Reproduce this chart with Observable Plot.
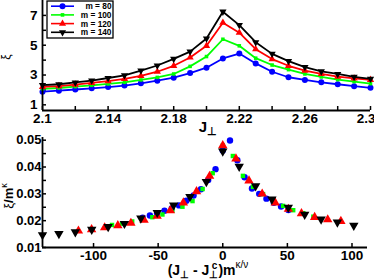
<!DOCTYPE html>
<html><head><meta charset="utf-8">
<script src="https://cdn.jsdelivr.net/npm/d3@7"></script>
<script src="https://cdn.jsdelivr.net/npm/@observablehq/plot@0.6"></script>
<style>
body{margin:0;background:#fff;}
#wrap{position:relative;width:374px;height:279px;overflow:hidden;font-family:"Liberation Sans",Arial,sans-serif;}
#wrap svg{position:absolute;left:0;background:transparent;}
</style></head><body><div id="wrap"></div>
<script>
// ---- data ----
const J = [2.10,2.11,2.12,2.13,2.14,2.15,2.16,2.17,2.18,2.19,2.20,2.21,2.22,2.23,2.24,2.25,2.26,2.27,2.28,2.29,2.30];
const mValues = [80,100,120,140];
const colors = ["#0000ff","#00ff00","#ff0000","#000000"];
const xi80  = [1.88,1.95,2.03,2.11,2.19,2.29,2.44,2.62,2.82,3.13,3.49,4.11,4.44,3.78,3.22,2.85,2.67,2.51,2.38,2.25,2.14];
const xi100 = [2.07,2.13,2.22,2.31,2.40,2.51,2.67,2.84,3.07,3.58,4.24,5.40,4.96,4.13,3.67,3.36,3.07,2.87,2.69,2.56,2.42];
const xi120 = [2.20,2.26,2.36,2.47,2.59,2.74,2.94,3.22,3.62,4.18,4.96,6.51,5.84,4.73,4.07,3.62,3.29,3.07,2.89,2.77,2.68];
const xi140 = [2.32,2.38,2.50,2.63,2.80,2.98,3.30,3.64,4.08,4.57,5.45,7.25,6.35,5.20,4.42,3.93,3.53,3.24,3.07,2.88,2.74];

// scaling collapse (bottom panel)
const sx80  = [-62.0,-56.4,-50.8,-45.1,-39.5,-33.8,-28.2,-22.6,-16.9,-11.3,-5.6,0,5.6,11.3,16.9,22.6,28.2,33.8,39.5,45.1,50.8];
const sy80  = [0.0211,0.0219,0.0228,0.0237,0.0246,0.0257,0.0274,0.0294,0.0317,0.0352,0.0392,0.0462,0.0499,0.0425,0.0362,0.0320,0.0300,0.0282,0.0267,0.0253,0.0240];
const sx100 = [-85.7,-77.9,-70.1,-62.3,-54.5,-46.7,-39.0,-31.2,-23.4,-15.6,-7.8,0,7.8,15.6,23.4,31.2,39.0,46.7,54.5,62.3,70.1];
const sy100 = [0.0184,0.0189,0.0197,0.0205,0.0213,0.0223,0.0237,0.0252,0.0273,0.0318,0.0377,0.0480,0.0441,0.0367,0.0326,0.0299,0.0273,0.0255,0.0239,0.0228,0.0215];
const sx120 = [-111.7,-101.5,-91.4,-81.2,-71.1,-60.9,-50.8,-40.6,-30.5,-20.3,-10.2,0,10.2,20.3,30.5,40.6,50.8,60.9,71.1,81.2,91.4];
const sy120 = [0.0162,0.0167,0.0174,0.0182,0.0191,0.0202,0.0217,0.0238,0.0267,0.0309,0.0366,0.0480,0.0431,0.0349,0.0300,0.0267,0.0243,0.0227,0.0213,0.0204,0.0198];
const sx140 = [-139.5,-126.8,-114.1,-101.4,-88.7,-76.1,-63.4,-50.7,-38.0,-25.4,-12.7,0,12.7,25.4,38.0,50.7,63.4,76.1,88.7,101.4];
const sy140 = [0.0147,0.0151,0.0158,0.0167,0.0177,0.0189,0.0209,0.0230,0.0258,0.0289,0.0345,0.0459,0.0402,0.0329,0.0280,0.0249,0.0223,0.0205,0.0194,0.0182];

const topXTicks = [2.1,2.14,2.18,2.22,2.26];
const topXLast = [2.3];
const topXMinor = [2.1,2.12,2.14,2.16,2.18,2.2,2.22,2.24,2.26,2.28,2.3];
const topYTicks = [1,3,5,7];
const topYMinor = [1,2,3,4,5,6,7];
const botXTicks = [-100,-50,0,50,100];
const botYTicks = [0.01,0.02,0.03,0.04,0.05];
const botYMinor = [0.01,0.015,0.02,0.025,0.03,0.035,0.04,0.045,0.05];

const xiSeries = [xi80, xi100, xi120, xi140];
const sxSeries = [sx80, sx100, sx120, sx140];
const sySeries = [sy80, sy100, sy120, sy140];

// ---- helpers ----
const sqrt3 = Math.sqrt(3);
const triangleDown = {
  draw(context, size) {
    const y = -Math.sqrt(size / (sqrt3 * 3));
    context.moveTo(0, -y * 2);
    context.lineTo(-sqrt3 * y, y);
    context.lineTo(sqrt3 * y, y);
    context.closePath();
  }
};
const symbols = ["circle", "square", "triangle", triangleDown];
const d3symbols = [d3.symbolCircle, d3.symbolSquare, d3.symbolTriangle, triangleDown];

const W = 374;
const topMl = 42, topMr = 4, topMt = 0, topPH = 110, topH = 140;
const botMl = 42, botMr = 7, botMt = 7, botPH = 110, botH = 149;

const topRows = mValues.map((m, k) => J.map((j, i) => ({J: j, xi: xiSeries[k][i], m})));
const botRows = mValues.map((m, k) => sxSeries[k].map((x, i) => ({x, y: sySeries[k][i], m})));

const fontStyle = {fontFamily: '"Liberation Sans", Arial, sans-serif', fontWeight: "bold", fontSize: "13px", background: "transparent", overflow: "visible"};

// ---- top panel ----
const topPlot = Plot.plot({
  width: W, height: topH,
  marginLeft: topMl, marginRight: topMr, marginTop: topMt, marginBottom: topH - topMt - topPH,
  style: fontStyle,
  x: {domain: [2.1, 2.3]},
  y: {domain: [0.62, 8.0]},
  marks: [
    Plot.axisX(topXTicks, {tickSize: 0, tickPadding: 3, tickFormat: d => String(d), fontSize: 13.5, label: null}),
    Plot.axisX(topXLast, {tickSize: 0, tickPadding: 3, tickFormat: d => String(d), fontSize: 13.5, textAnchor: "end", dx: 5, label: null}),
    Plot.axisY(topYTicks, {tickSize: 0, tickPadding: 5, tickFormat: d => String(d), fontSize: 13.5, label: null}),
    Plot.tickX(topXMinor, {x: d => d, insetTop: topPH - 4, strokeWidth: 1.5}),
    Plot.tickY(topYMinor, {y: d => d, insetRight: W - topMl - topMr - 4, strokeWidth: 1.5}),
    ...topRows.map((rows, k) => Plot.line(rows, {x: "J", y: "xi", stroke: colors[k], strokeWidth: 1.8})),
    ...topRows.map((rows, k) => Plot.dot(rows, {x: "J", y: "xi", fill: colors[k], stroke: "none", symbol: () => symbols[k], r: k === 0 ? 3 : k === 1 ? 2.0 : 2.7})),
    Plot.ruleX([2.1], {strokeWidth: 1.8}),
    Plot.ruleY([0.62], {strokeWidth: 1.8})
  ]
});
topPlot.style.top = "0px";
document.getElementById("wrap").appendChild(topPlot);

// ---- bottom panel ----
const botPlot = Plot.plot({
  width: W, height: botH,
  marginLeft: botMl, marginRight: botMr, marginTop: botMt, marginBottom: botH - botMt - botPH,
  style: fontStyle,
  x: {domain: [-139.5, 112]},
  y: {domain: [0.01, 0.051]},
  marks: [
    Plot.axisX(botXTicks, {tickSize: 0, tickPadding: 3, tickFormat: d => String(d), fontSize: 13.5, label: null}),
    Plot.axisY(botYTicks, {tickSize: 0, tickPadding: 1, tickFormat: d => d.toFixed(2), fontSize: 13, label: null}),
    Plot.tickX(botXTicks, {x: d => d, insetTop: botPH - 4, strokeWidth: 1.5}),
    Plot.tickY(botYMinor, {y: d => d, insetRight: W - botMl - botMr - 4, strokeWidth: 1.5}),
    ...botRows.map((rows, k) => Plot.dot(rows, {x: "x", y: "y", fill: colors[k], stroke: "none", symbol: () => symbols[k], r: k === 0 ? 3.2 : k === 1 ? 2.5 : 3.5})),
    Plot.ruleX([-139.5], {strokeWidth: 1.8}),
    Plot.ruleY([0.01], {strokeWidth: 1.8})
  ]
});
botPlot.style.top = "130px";
document.getElementById("wrap").appendChild(botPlot);

// ---- rich text labels ----
function richText(svg, x, y, parts, rotate) {
  const t = d3.select(svg).append("text")
    .attr("transform", `translate(${x},${y})` + (rotate ? " rotate(-90)" : ""))
    .attr("text-anchor", "middle").attr("fill", "#000")
    .style("font-family", '"Liberation Sans", Arial, sans-serif');
  let shift = 0;
  parts.forEach(p => {
    const s = t.append("tspan").text(p.t)
      .style("font-size", p.size + "px").style("font-weight", p.bold ? "bold" : "normal");
    const target = p.shift || 0;
    s.attr("dy", target - shift);
    if (p.dx) s.attr("dx", p.dx);
    shift = target;
  });
  return t;
}
const ts = topPlot;
const bs = botPlot;

richText(ts, 208, 132, [{t: "J", size: 15, bold: true}, {t: "⊥", size: 11, bold: true, shift: 3}]);
richText(ts, 10, 57, [{t: "ξ", size: 12}], true);

richText(bs, 208, 145, [
  {t: "(J", size: 14, bold: true}, {t: "⊥", size: 10, bold: true, shift: 3},
  {t: " - J", size: 14, bold: true}, {t: "⊥", size: 10, bold: true, shift: 3},
  {t: "c", size: 10, bold: true, shift: -6, dx: -6.5}, {t: ")m", size: 14, bold: true, shift: 0, dx: 1},
  {t: "κ/ν", size: 10, shift: -7}
]);
richText(bs, 13, 66, [{t: "ξ", size: 13}, {t: "/m", size: 13, bold: true}, {t: "κ", size: 9, shift: -6}], true);

// ---- legend ----
const lg = d3.select(ts).append("g");
lg.append("rect").attr("x", 47).attr("y", 1).attr("width", 66).attr("height", 37)
  .attr("fill", "#fff").attr("stroke", "#000").attr("stroke-width", 1.3);
mValues.forEach((m, k) => {
  const yy = 6.2 + k * 8.7;
  lg.append("line").attr("x1", 51).attr("x2", 74).attr("y1", yy).attr("y2", yy)
    .attr("stroke", colors[k]).attr("stroke-width", 1.6);
  const sizes = [28, 13, 22, 22];
  lg.append("path").attr("transform", `translate(62.5,${yy})`)
    .attr("d", d3.symbol(d3symbols[k], sizes[k])()).attr("fill", colors[k]);
  lg.append("text").attr("x", 111.5).attr("y", yy + 3).attr("text-anchor", "end")
    .style("font-size", "8.3px").style("font-weight", "bold").attr("fill", "#000")
    .text(`m = ${m}`);
});
</script></body></html>
